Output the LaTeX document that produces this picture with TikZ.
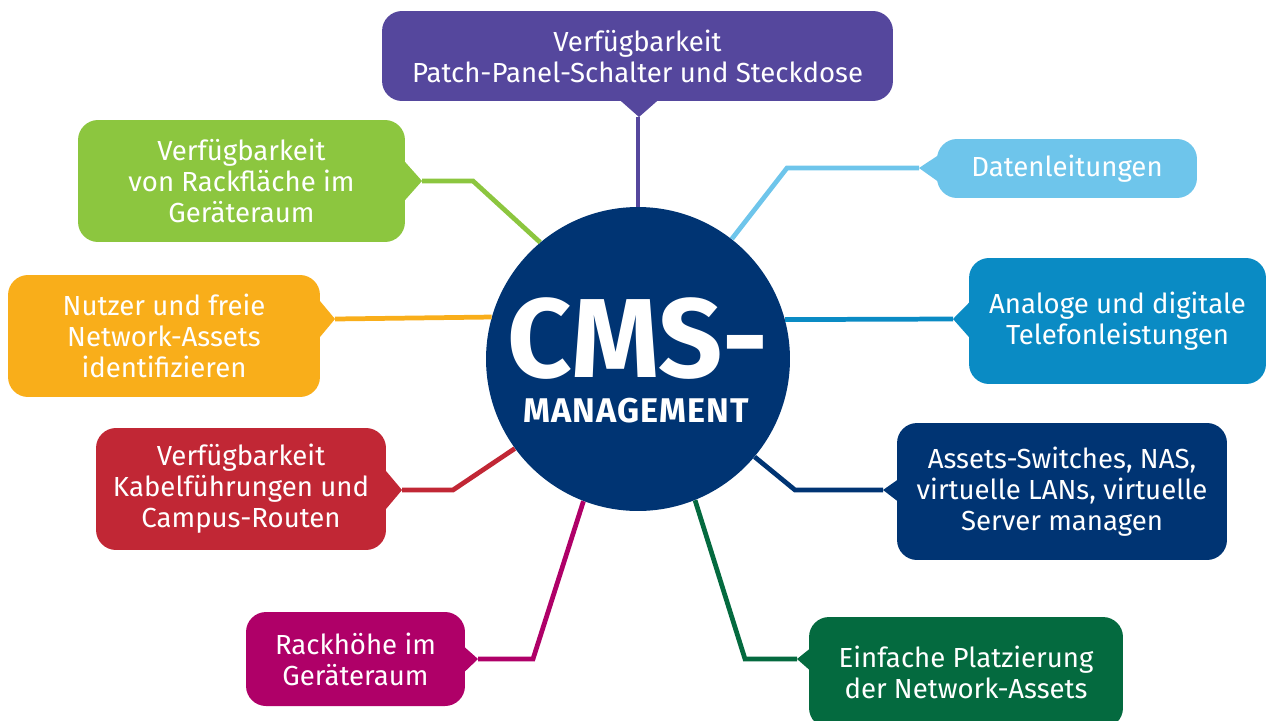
\documentclass[tikz,border=0pt]{standalone}
\usepackage{fontspec}
\setmainfont{Fira Sans}
\usetikzlibrary{calc}

\definecolor{cpurple}{HTML}{55479D}
\definecolor{cgreen}{HTML}{8CC63F}
\definecolor{corange}{HTML}{F9AE1A}
\definecolor{cred}{HTML}{C12735}
\definecolor{cmagenta}{HTML}{AF0068}
\definecolor{clightblue}{HTML}{6EC5EB}
\definecolor{cblue}{HTML}{0A8BC4}
\definecolor{cnavy}{HTML}{003473}
\definecolor{cdarkgreen}{HTML}{046A3F}

\tikzset{
    box/.style={fill=#1, text=white, rounded corners=0.4cm, inner sep=0pt,
        align=center, font=\fontsize{15.7}{17.6}\selectfont},
    link/.style={draw=#1, line width=2.7pt},
}

\begin{document}
\begin{tikzpicture}[x=0.02cm, y=-0.02cm]
    \useasboundingbox (0,0) rectangle (1266,720);
    \node[circle, fill=cnavy, minimum size=6.08cm, inner sep=0pt] (cms) at (638,359) {};
    % where the connectors bend and end
    \coordinate (ptip) at (639,117);
    \coordinate (gtip) at (422,181);
    \coordinate (gbend) at (473,181);
    \coordinate (otip) at (335,319);
    \coordinate (rtip) at (402,490);
    \coordinate (rbend) at (453,490);
    \coordinate (mtip) at (478,659);
    \coordinate (mbend) at (533,659);
    \coordinate (dtip) at (919,168);
    \coordinate (dbend) at (787,168);
    \coordinate (btip) at (953,319);
    \coordinate (ntip) at (883,490);
    \coordinate (nbend) at (795,490);
    \coordinate (ktip) at (797,659);
    \coordinate (kbend) at (745,659);
    % connectors
    \draw[link=cpurple] (cms.north) -- (cms.north |- ptip);
    \draw[link=cgreen] (cms.130) -- (gbend) -- (gtip);
    \draw[link=corange] (cms.164.7) -- (otip);
    \draw[link=cred] (cms.216.6) -- (rbend) -- (rtip);
    \draw[link=cmagenta] (cms.249.1) -- (mbend) -- (mtip);
    \draw[link=clightblue] (cms.52.7) -- (dbend) -- (dtip);
    \draw[link=cblue] (cms.15.3) -- (btip);
    \draw[link=cnavy] (cms.320.6) -- (nbend) -- (ntip);
    \draw[link=cdarkgreen] (cms.292) -- (kbend) -- (ktip);
    % boxes
    \node[box=cpurple, minimum width=10.22cm, minimum height=1.8cm] (patch) at (637.5,56)
        {Verfügbarkeit\\Patch-Panel-Schalter und Steckdose};
    \node[box=cgreen, minimum width=6.54cm, minimum height=2.44cm] (rack) at (241.5,181)
        {Verfügbarkeit\\von Rackfläche im\\Geräteraum};
    \node[box=corange, minimum width=6.24cm, minimum height=2.44cm] (nutzer) at (164,336)
        {Nutzer und freie\\Network-Assets\\identifizieren};
    \node[box=cred, minimum width=5.8cm, minimum height=2.44cm] (kabel) at (241,489)
        {Verfügbarkeit\\Kabelführungen und\\Campus-Routen};
    \node[box=cmagenta, minimum width=4.38cm, minimum height=1.88cm] (hoehe) at (355.5,659)
        {Rackhöhe im\\Geräteraum};
    \node[box=clightblue, minimum width=5.2cm, minimum height=1.18cm] (daten) at (1067,168.5)
        {Datenleitungen};
    \node[box=cblue, minimum width=5.94cm, minimum height=2.52cm] (telefon) at (1117.5,321)
        {Analoge und digitale\\Telefonleistungen};
    \node[box=cnavy, minimum width=6.6cm, minimum height=2.74cm] (assets) at (1062,491.5)
        {Assets-Switches, NAS,\\virtuelle LANs, virtuelle\\Server managen};
    \node[box=cdarkgreen, minimum width=6.28cm, minimum height=2.22cm] (platz) at (966,672.5)
        {Einfache Platzierung\\der Network-Assets};
    % pointers of the boxes
    \fill[cpurple] ($(patch.south -| ptip)+(-20,-2)$) -- (ptip) -- ($(patch.south -| ptip)+(20,-2)$) -- cycle;
    \fill[cgreen] ($(rack.east |- gtip)+(-2,-21)$) -- (gtip) -- ($(rack.east |- gtip)+(-2,21)$) -- cycle;
    \fill[corange] ($(nutzer.east |- otip)+(-2,-20)$) -- (otip) -- ($(nutzer.east |- otip)+(-2,20)$) -- cycle;
    \fill[cred] ($(kabel.east |- rtip)+(-2,-21)$) -- (rtip) -- ($(kabel.east |- rtip)+(-2,21)$) -- cycle;
    \fill[cmagenta] ($(hoehe.east |- mtip)+(-2,-13)$) -- (mtip) -- ($(hoehe.east |- mtip)+(-2,14)$) -- cycle;
    \fill[clightblue] ($(daten.west |- dtip)+(2,-13)$) -- (dtip) -- ($(daten.west |- dtip)+(2,14)$) -- cycle;
    \fill[cblue] ($(telefon.west |- btip)+(2,-18)$) -- (btip) -- ($(telefon.west |- btip)+(2,20)$) -- cycle;
    \fill[cnavy] ($(assets.west |- ntip)+(2,-11)$) -- (ntip) -- ($(assets.west |- ntip)+(2,12)$) -- cycle;
    \fill[cdarkgreen] ($(platz.west |- ktip)+(2,-11)$) -- (ktip) -- ($(platz.west |- ktip)+(2,12)$) -- cycle;
    % title in the circle
    \node[text=white, font=\bfseries\fontsize{64}{64}\selectfont, anchor=base, inner sep=0pt, text depth=0pt] (cmsname) at (638,377) {CMS-};
    \node[text=white, font=\bfseries\fontsize{19.5}{19.5}\selectfont\addfontfeature{LetterSpace=3}, anchor=base, inner sep=0pt] (cmssub) at (636,422) {MANAGEMENT};
\end{tikzpicture}
\end{document}
